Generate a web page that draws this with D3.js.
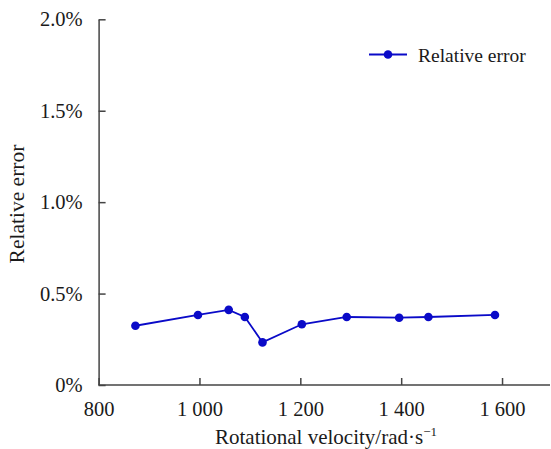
<!doctype html>
<html>
<head>
<meta charset="utf-8">
<title>Relative error</title>
<style>
  body { margin: 0; background: #fff; }
</style>
</head>
<body>
<svg width="551" height="449"></svg>
<script src="https://d3js.org/d3.v7.min.js"></script>
<script>
var velocity = [873, 997, 1058, 1090, 1125, 1203, 1292, 1396, 1454, 1586];
var relError = [0.324, 0.383, 0.411, 0.372, 0.233, 0.332, 0.372, 0.368, 0.372, 0.383];
var xTicks = [800, 1000, 1200, 1400, 1600];
var yTicks = [0, 0.5, 1.0, 1.5, 2.0];
var seriesName = "Relative error";

var serif = "'Liberation Serif', 'Times New Roman', serif";
var svg = d3.select("svg");
var width = 551, height = 449;
var lineColor = "#0a0ac8";

var x = d3.scaleLinear()
    .domain([800, 1700])
    .range([98.6, 98.6 + 900 * 0.5043]);

var y = d3.scaleLinear()
    .domain([0, 2])
    .range([385, 19.3]);

// x axis, ticks point inward
var xAxis = svg.append("g")
    .attr("transform", "translate(0," + y(0) + ")")
    .call(d3.axisBottom(x)
      .tickValues(xTicks)
      .tickSizeInner(-7)
      .tickSizeOuter(0)
      .tickPadding(16)
      .tickFormat(function(d) {
        return d >= 1000 ? Math.floor(d / 1000) + " " + d3.format("03d")(d % 1000) : d;
      }));

var yAxis = svg.append("g")
    .attr("transform", "translate(" + x(800) + ",0)")
    .call(d3.axisLeft(y)
      .tickValues(yTicks)
      .tickSizeInner(-7)
      .tickSizeOuter(0)
      .tickPadding(16)
      .tickFormat(function(d) { return d === 0 ? "0%" : d3.format(".1f")(d) + "%"; }));

svg.selectAll(".domain, .tick line")
    .attr("stroke", "#444")
    .attr("stroke-width", 1.5);

svg.selectAll(".tick text")
    .style("font-family", serif)
    .style("font-size", "20.5px")
    .attr("fill", "#1a1a1a");

// stretch the x axis line to the right edge
xAxis.select(".domain").attr("d", "M" + x(800) + ",0H" + (width - 1));

// axis titles
svg.append("text")
    .attr("x", 326)
    .attr("y", 444)
    .attr("text-anchor", "middle")
    .style("font-family", serif)
    .style("font-size", "21px")
    .attr("fill", "#1a1a1a")
    .text("Rotational velocity/rad\u00b7s")
  .append("tspan")
    .attr("dy", -8)
    .style("font-size", "13px")
    .text("\u22121");

svg.append("text")
    .attr("transform", "translate(24,204) rotate(-90)")
    .attr("text-anchor", "middle")
    .style("font-family", serif)
    .style("font-size", "21.5px")
    .attr("fill", "#1a1a1a")
    .text("Relative error");

// line + points
var line = d3.line()
    .x(function(d, i) { return x(velocity[i]); })
    .y(function(d) { return y(d); });

svg.append("path")
    .datum(relError)
    .attr("d", line)
    .attr("fill", "none")
    .attr("stroke", lineColor)
    .attr("stroke-width", 1.8);

svg.selectAll(".dot")
    .data(relError)
    .enter()
    .append("circle")
    .attr("cx", function(d, i) { return x(velocity[i]); })
    .attr("cy", function(d) { return y(d); })
    .attr("r", 4.3)
    .attr("fill", lineColor);

// legend
var legend = svg.append("g").attr("transform", "translate(369,54.5)");
legend.append("line")
    .attr("x1", 0).attr("x2", 38)
    .attr("stroke", lineColor)
    .attr("stroke-width", 1.8);
legend.append("circle")
    .attr("cx", 19).attr("r", 4.3)
    .attr("fill", lineColor);
legend.append("text")
    .attr("x", 49)
    .attr("y", 7)
    .style("font-family", serif)
    .style("font-size", "19.5px")
    .attr("fill", "#1a1a1a")
    .text(seriesName);
</script>
</body>
</html>
